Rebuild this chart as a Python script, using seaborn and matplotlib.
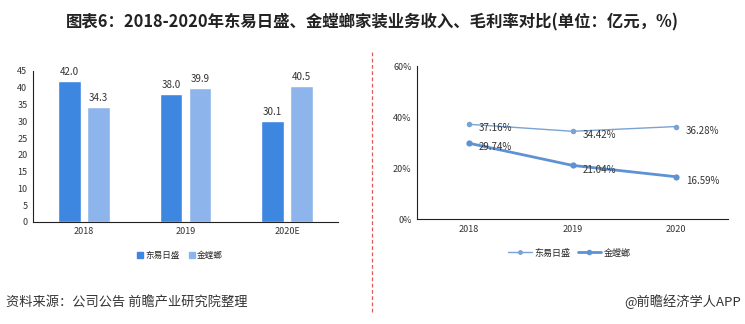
import matplotlib
matplotlib.use("Agg")
import matplotlib.pyplot as plt
import seaborn as sns
import pandas as pd
from matplotlib.lines import Line2D

sns.set_theme(style="white")
plt.rcParams['font.family'] = ['Noto Sans CJK SC', 'DejaVu Sans']
plt.rcParams['axes.unicode_minus'] = False

# ---- data ----
years_bar = ["2018", "2019", "2020E"]
companies = ["东易日盛", "金螳螂"]
revenue_dyrs = [42.0, 38.0, 30.1]
revenue_jtl = [34.3, 39.9, 40.5]

years_line = ["2018", "2019", "2020"]
margin_dyrs = [37.16, 34.42, 36.28]
margin_jtl = [29.74, 21.04, 16.59]

title = "图表6：2018-2020年东易日盛、金螳螂家装业务收入、毛利率对比(单位：亿元，%)"
source = "资料来源：公司公告 前瞻产业研究院整理"
credit = "@前瞻经济学人APP"

bar_colors = ["#3d87e0", "#8db5ec"]
line_colors = ["#7aa3d4", "#5f92d2"]

df_bar = pd.DataFrame({
    "year": years_bar * 2,
    "company": [companies[0]] * 3 + [companies[1]] * 3,
    "value": revenue_dyrs + revenue_jtl,
})

fig = plt.figure(figsize=(7.45, 3.24), dpi=100)

# ---- left: bar chart ----
ax1 = fig.add_axes([0.0443, 0.315, 0.4094, 0.466])
sns.barplot(data=df_bar, x="year", y="value", hue="company", palette=bar_colors,
            width=0.57, gap=0.21, ax=ax1, legend=False, saturation=1)
ax1.set_ylim(0, 45)
ax1.set_yticks(range(0, 46, 5))
ax1.set_xlim(-0.5, 2.5)
ax1.set_xlabel("")
ax1.set_ylabel("")
for c in ax1.containers:
    ax1.bar_label(c, fmt="%.1f", padding=3, fontsize=7, color="#333333")
ax1.tick_params(axis="both", labelsize=6.5, colors="#333333", length=0, pad=4)
for s in ["top", "right"]:
    ax1.spines[s].set_visible(False)
for s in ["left", "bottom"]:
    ax1.spines[s].set_color("#222222")
    ax1.spines[s].set_linewidth(0.8)
handles1 = [Line2D([0], [0], marker="s", linestyle="none", markersize=4,
                   markerfacecolor=bar_colors[i], markeredgecolor=bar_colors[i],
                   label=companies[i]) for i in range(2)]
ax1.legend(handles=handles1, loc="upper center", bbox_to_anchor=(0.48, -0.14),
           ncol=2, frameon=False, fontsize=6.2, handletextpad=0.1, columnspacing=0.9,
           handlelength=1.0)

# ---- right: line chart ----
ax2 = fig.add_axes([0.560, 0.324, 0.417, 0.472])
df_line = pd.DataFrame({
    "x": [0, 1, 2] * 2,
    "company": [companies[0]] * 3 + [companies[1]] * 3,
    "value": margin_dyrs + margin_jtl,
})
sns.lineplot(data=df_line[df_line.company == companies[0]], x="x", y="value",
             color=line_colors[0], linewidth=1.0, marker="o", markersize=4,
             markeredgewidth=0, ax=ax2)
sns.lineplot(data=df_line[df_line.company == companies[1]], x="x", y="value",
             color=line_colors[1], linewidth=2.0, marker="o", markersize=4.5,
             markeredgewidth=0, ax=ax2)
for vals in (margin_dyrs, margin_jtl):
    for i, v in enumerate(vals):
        ax2.annotate(f"{v:.2f}%", (i, v), xytext=(7, -3), textcoords="offset points",
                     fontsize=7, color="#333333", va="center", ha="left")
ax2.set_xlim(-0.5, 2.5)
ax2.set_ylim(0, 60)
ax2.set_yticks([0, 20, 40, 60])
ax2.set_yticklabels([f"{t}%" for t in [0, 20, 40, 60]])
ax2.set_xticks([0, 1, 2])
ax2.set_xticklabels(years_line)
ax2.set_xlabel("")
ax2.set_ylabel("")
ax2.tick_params(axis="both", labelsize=6.5, colors="#333333", length=0, pad=4)
for s in ["top", "right"]:
    ax2.spines[s].set_visible(False)
for s in ["left", "bottom"]:
    ax2.spines[s].set_color("#222222")
    ax2.spines[s].set_linewidth(0.8)
handles2 = [Line2D([0], [0], color=line_colors[0], linewidth=1.0, marker="o", markersize=3.5,
                   markeredgewidth=0, label=companies[0]),
            Line2D([0], [0], color=line_colors[1], linewidth=2.0, marker="o", markersize=4,
                   markeredgewidth=0, label=companies[1])]
ax2.legend(handles=handles2, loc="upper center", bbox_to_anchor=(0.49, -0.14),
           ncol=2, frameon=False, fontsize=6.5, handlelength=2.6, handletextpad=0.3,
           columnspacing=0.8)

# ---- separator ----
fig.add_artist(Line2D([372 / 745, 372 / 745], [1 - 52 / 324, 1 - 312 / 324],
                      color="#e05a5a", linewidth=0.9, linestyle=(0, (3, 2))))

# ---- texts ----
fig.text(0.5, 1 - 22 / 324, title, ha="center", va="center", fontsize=11.8,
         fontweight="bold", color="#222222")
fig.text(6 / 745, 1 - 302 / 324, source, ha="left", va="center", fontsize=9.5, color="#333333")
fig.text(741 / 745, 1 - 302 / 324, credit, ha="right", va="center", fontsize=9.5, color="#333333")

fig.savefig("out.png", dpi=100)
